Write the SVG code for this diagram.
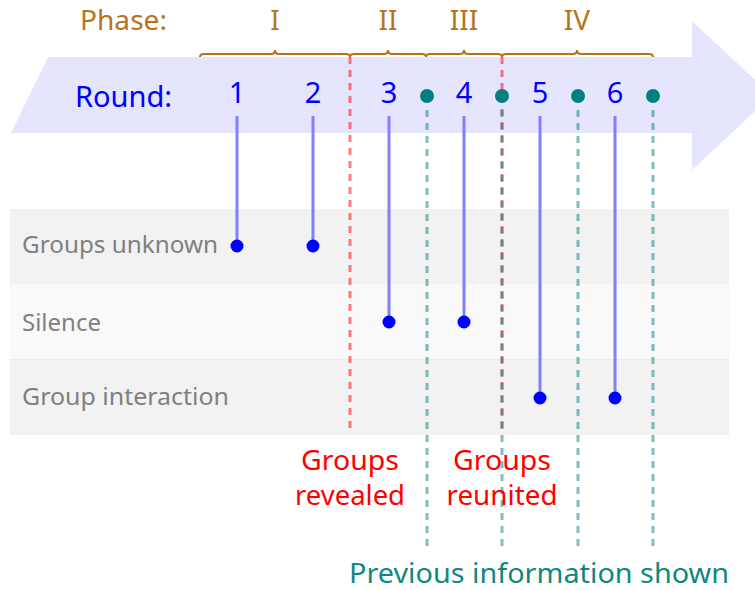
<svg xmlns="http://www.w3.org/2000/svg" width="755" height="590" viewBox="0 0 755 590">
<style>
.ph{fill:#b8731a;font-size:28px}
.rd{fill:#0000ff;font-size:29px}
.lbl{fill:#808080;font-size:23px}
.ev{fill:#ff0000;font-size:28px;text-anchor:middle}
.info{fill:#108880;font-size:28px}
.brace{fill:none;stroke:#b8731a;stroke-width:2}
.rl{stroke:#8080ff;stroke-width:3}
.rdot{fill:#0000ff}
.tdot{fill:#008080}
.tdash{stroke:#008080;stroke-opacity:0.5;stroke-width:3;stroke-dasharray:7,6}
.rdash{stroke:#ff0000;stroke-opacity:0.5;stroke-width:3;stroke-dasharray:7,6}
</style>
<g font-family="'Noto Sans', 'Open Sans', sans-serif">
<g id="timeline">
<polygon points="48,57 692,57 692,21 772,95.5 692,170 692,133 11,133" fill="#e5e5fd"/>
<text class="ph" x="80" y="30" textLength="87" lengthAdjust="spacingAndGlyphs">Phase:</text>
<text class="rd" x="75" y="107" textLength="97" lengthAdjust="spacingAndGlyphs">Round:</text>
</g>
<g id="rows">
<rect x="10" y="209" width="719" height="75" fill="#f2f2f2"/>
<rect x="10" y="284" width="719" height="75" fill="#f9f9f9"/>
<rect x="10" y="359" width="719" height="76" fill="#f2f2f2"/>
<line x1="10" y1="359.5" x2="729" y2="359.5" stroke="#ebebeb" stroke-width="1"/>
<text class="lbl" x="22" y="253" textLength="196" lengthAdjust="spacingAndGlyphs">Groups unknown</text>
<text class="lbl" x="22" y="331" textLength="79" lengthAdjust="spacingAndGlyphs">Silence</text>
<text class="lbl" x="22" y="405" textLength="207" lengthAdjust="spacingAndGlyphs">Group interaction</text>
</g>
<g id="phases">
<path class="brace" d="M200,57 q0,-3 4,-3 L271,54 q4,0 4,-4 q0,4 4,4 L346,54 q4,0 4,3"/>
<path class="brace" d="M350,57 q0,-3 4,-3 L384,54 q4,0 4,-4 q0,4 4,4 L422,54 q4,0 4,3"/>
<path class="brace" d="M426,57 q0,-3 4,-3 L460,54 q4,0 4,-4 q0,4 4,4 L498,54 q4,0 4,3"/>
<path class="brace" d="M502,57 q0,-3 4,-3 L573,54 q4,0 4,-4 q0,4 4,4 L649,54 q4,0 4,3"/>
<text class="ph" x="275" y="30" text-anchor="middle">I</text>
<text class="ph" x="388" y="30" text-anchor="middle">II</text>
<text class="ph" x="464" y="30" text-anchor="middle">III</text>
<text class="ph" x="577" y="30" text-anchor="middle">IV</text>
</g>
<g id="connectors">
<line class="rdash" x1="350" y1="57" x2="350" y2="433"/>
<line class="rdash" x1="502" y1="57" x2="502" y2="433"/>
<line class="tdash" x1="427" y1="110" x2="427" y2="550"/>
<line class="tdash" x1="502" y1="110" x2="502" y2="550"/>
<line class="tdash" x1="578" y1="110" x2="578" y2="550"/>
<line class="tdash" x1="653" y1="110" x2="653" y2="550"/>
<line class="rl" x1="237" y1="116" x2="237" y2="246"/>
<line class="rl" x1="313" y1="116" x2="313" y2="246"/>
<line class="rl" x1="389" y1="116" x2="389" y2="322"/>
<line class="rl" x1="464" y1="116" x2="464" y2="322"/>
<line class="rl" x1="540" y1="116" x2="540" y2="398"/>
<line class="rl" x1="615" y1="116" x2="615" y2="398"/>
</g>
<g id="round1"><text class="rd" x="237" y="103" text-anchor="middle">1</text><circle class="rdot" cx="237" cy="246" r="6.5"/></g>
<g id="round2"><text class="rd" x="313" y="103" text-anchor="middle">2</text><circle class="rdot" cx="313" cy="246" r="6.5"/></g>
<g id="round3"><text class="rd" x="389" y="103" text-anchor="middle">3</text><circle class="rdot" cx="389" cy="322" r="6.5"/></g>
<g id="round4"><text class="rd" x="464" y="103" text-anchor="middle">4</text><circle class="rdot" cx="464" cy="322" r="6.5"/></g>
<g id="round5"><text class="rd" x="540" y="103" text-anchor="middle">5</text><circle class="rdot" cx="540" cy="398" r="6.5"/></g>
<g id="round6"><text class="rd" x="615" y="103" text-anchor="middle">6</text><circle class="rdot" cx="615" cy="398" r="6.5"/></g>
<g id="info-points">
<circle class="tdot" cx="427" cy="96" r="7"/>
<circle class="tdot" cx="502" cy="96" r="7"/>
<circle class="tdot" cx="578" cy="96" r="7"/>
<circle class="tdot" cx="653" cy="96" r="7"/>
</g>
<g id="groups-revealed">
<text class="ev" x="350" y="470" textLength="98" lengthAdjust="spacingAndGlyphs">Groups</text>
<text class="ev" x="350" y="505" textLength="110" lengthAdjust="spacingAndGlyphs">revealed</text>
</g>
<g id="groups-reunited">
<text class="ev" x="502" y="470" textLength="98" lengthAdjust="spacingAndGlyphs">Groups</text>
<text class="ev" x="502" y="505" textLength="111" lengthAdjust="spacingAndGlyphs">reunited</text>
</g>
<g id="previous-info">
<text class="info" x="349" y="583" textLength="380" lengthAdjust="spacingAndGlyphs">Previous information shown</text>
</g>
</g>
</svg>
